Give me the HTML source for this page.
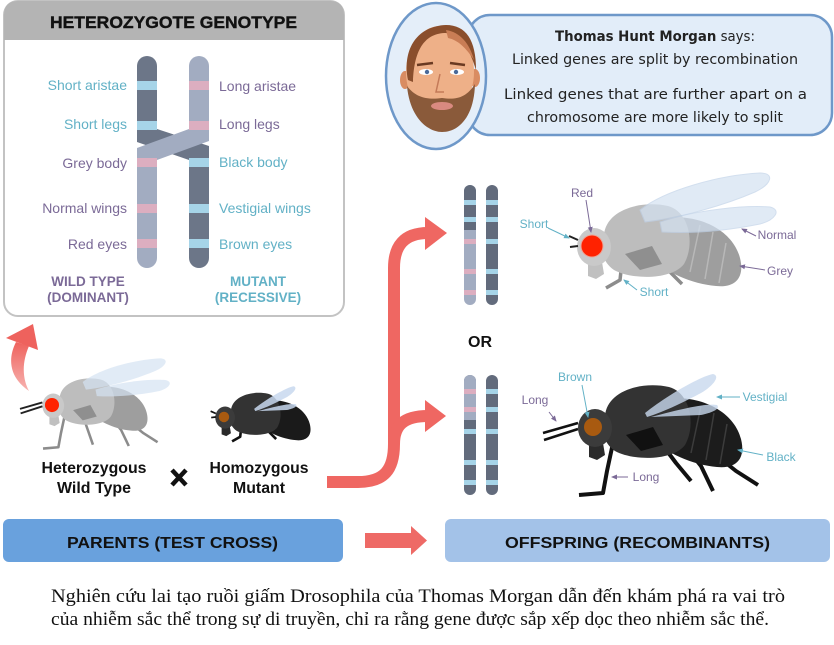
<!DOCTYPE html>
<html><head><meta charset="utf-8"><style>
html,body{margin:0;padding:0;background:#fff;}
svg{display:block;}
</style></head><body>
<svg width="834" height="645" viewBox="0 0 834 645" xmlns="http://www.w3.org/2000/svg" font-family="'Liberation Sans', sans-serif">
<defs>
<marker id="mp" markerWidth="6" markerHeight="6" refX="5" refY="3" orient="auto" markerUnits="userSpaceOnUse"><path d="M0,0.5 L6,3 L0,5.5 Z" fill="#7b6a97"/></marker>
<marker id="mt" markerWidth="6" markerHeight="6" refX="5" refY="3" orient="auto" markerUnits="userSpaceOnUse"><path d="M0,0.5 L6,3 L0,5.5 Z" fill="#62b1c6"/></marker>
<linearGradient id="lg" x1="0" y1="0" x2="0" y2="1"><stop offset="0" stop-color="#ee625d"/><stop offset="1" stop-color="#f7b3b0"/></linearGradient>
</defs>
<rect width="834" height="645" fill="#fff"/>

<!-- Genotype box -->
<rect x="4" y="1" width="340" height="315" rx="14" fill="#fff" stroke="#c3c3c3" stroke-width="2"/>
<path d="M4,40 L4,15 Q4,1 18,1 L330,1 Q344,1 344,15 L344,40 Z" fill="#b4b4b4"/>
<text x="50" y="28" font-size="17" font-weight="bold" fill="#111" stroke="#111" stroke-width="0.4" textLength="247" lengthAdjust="spacingAndGlyphs">HETEROZYGOTE GENOTYPE</text>

<!-- H chromosomes -->
<path d="M137,132 L137,66 A10,10 0 0 1 157,66 L157,132 Z" fill="#6c7688"/>
<path d="M189,156 L189,258 A10,10 0 0 0 209,258 L209,156 Z" fill="#6c7688"/>
<polygon points="137,129 157,129 209,146 209,160 189,160 137,142" fill="#6c7688"/>
<path d="M189,132 L189,66 A10,10 0 0 1 209,66 L209,132 Z" fill="#a2acc1"/>
<polygon points="189,129 209,129 209,141 157,160 137,160 137,148" fill="#a2acc1"/>
<path d="M137,156 L137,258 A10,10 0 0 0 157,258 L157,156 Z" fill="#a2acc1"/>
<g fill="#a6d4e8">
<rect x="137" y="81" width="20" height="9"/><rect x="137" y="121" width="20" height="9"/>
<rect x="189" y="158" width="20" height="9"/><rect x="189" y="204" width="20" height="9"/><rect x="189" y="239" width="20" height="9"/>
</g>
<g fill="#dcaec0">
<rect x="189" y="81" width="20" height="9"/><rect x="189" y="121" width="20" height="9"/>
<rect x="137" y="158" width="20" height="9"/><rect x="137" y="204" width="20" height="9"/><rect x="137" y="239" width="20" height="9"/>
</g>
<g font-size="14" text-anchor="end">
<text x="127" y="90" fill="#62b1c6">Short aristae</text>
<text x="127" y="129" fill="#62b1c6">Short legs</text>
<text x="127" y="168" fill="#7b6a97">Grey body</text>
<text x="127" y="213" fill="#7b6a97">Normal wings</text>
<text x="127" y="249" fill="#7b6a97">Red eyes</text>
</g>
<g font-size="14">
<text x="219" y="91" fill="#7b6a97">Long aristae</text>
<text x="219" y="129" fill="#7b6a97">Long legs</text>
<text x="219" y="167" fill="#62b1c6">Black body</text>
<text x="219" y="213" fill="#62b1c6">Vestigial wings</text>
<text x="219" y="249" fill="#62b1c6">Brown eyes</text>
</g>
<g font-size="13.5" font-weight="bold" text-anchor="middle">
<text x="88" y="286" fill="#7b6a97">WILD TYPE</text>
<text x="88" y="302" fill="#7b6a97">(DOMINANT)</text>
<text x="258" y="286" fill="#62b1c6">MUTANT</text>
<text x="258" y="302" fill="#62b1c6">(RECESSIVE)</text>
</g>

<!-- Morgan bubble -->
<rect x="468" y="15" width="364" height="120" rx="22" fill="#e2edf9" stroke="#6e98c9" stroke-width="2.5"/>
<ellipse cx="436" cy="76" rx="50" ry="73" fill="#e4eef9" stroke="#6e98c9" stroke-width="2.5"/>
<ellipse cx="405" cy="80" rx="5" ry="9" fill="#d98c62"/>
<ellipse cx="475" cy="78" rx="5" ry="9" fill="#d98c62"/>
<ellipse cx="440" cy="72" rx="34" ry="46" fill="#eeb088"/>
<path d="M408,80 C402,48 418,26 446,25 C466,25 476,40 476,70 C470,50 462,36 446,33 C426,33 414,48 413,82 Z" fill="#8a4e2c"/>
<path d="M446,30 C460,32 470,44 474,60 C466,48 458,40 448,38 Z" fill="#c97d55"/>
<path d="M407,86 C410,118 428,132 442,132 C458,132 474,118 475,84 C466,98 456,100 442,98 C428,100 416,98 407,86 Z" fill="#8a5a3a"/>
<ellipse cx="442" cy="106" rx="11" ry="4" fill="#d98a80"/>
<ellipse cx="426" cy="72" rx="7" ry="3" fill="#fff"/><circle cx="427" cy="72" r="2.2" fill="#4a6a9a"/>
<ellipse cx="457" cy="72" rx="7" ry="3" fill="#fff"/><circle cx="456" cy="72" r="2.2" fill="#4a6a9a"/>
<path d="M417,65 L433,63 M450,63 L465,65" stroke="#6a3a22" stroke-width="2.5" fill="none"/>
<path d="M440,74 L436,92 L444,92" stroke="#c47a58" stroke-width="1.5" fill="none"/>
<g font-family="'DejaVu Sans', sans-serif" font-size="14.5" fill="#222">
<text x="555" y="41" textLength="200" lengthAdjust="spacingAndGlyphs"><tspan font-weight="bold">Thomas Hunt Morgan</tspan> says:</text>
<text x="512" y="64" textLength="286" lengthAdjust="spacingAndGlyphs">Linked genes are split by recombination</text>
<text x="504" y="99" textLength="303" lengthAdjust="spacingAndGlyphs">Linked genes that are further apart on a</text>
<text x="527" y="122" textLength="256" lengthAdjust="spacingAndGlyphs">chromosome are more likely to split</text>
</g>

<!-- curved arrow to genotype -->
<path d="M16,342 C7,360 10,378 29,391 C22,378 22,362 29,346 Z" fill="url(#lg)"/>
<polygon points="33,324 6,338 38,350" fill="#ee625d"/>

<!-- Big red arrow -->
<g stroke="#ef6762" stroke-width="12" fill="none">
<path d="M327,482 L358,482 C384,482 394,470 394,444 L394,268 C394,246 404,233 428,233"/>
<path d="M394,444 C394,425 404,416 428,416"/>
</g>
<polygon points="425,217 447,233 425,250" fill="#ef6762"/>
<polygon points="425,400 446,416 425,432" fill="#ef6762"/>

<!-- Offspring chromosomes -->
<rect x="464" y="185" width="12" height="120" rx="6" fill="#a2acc1"/>
<path d="M464,230 L464,191 A6,6 0 0 1 476,191 L476,230 Z" fill="#626b7c"/>
<rect x="486" y="185" width="12" height="120" rx="6" fill="#626b7c"/>
<rect x="464" y="375" width="12" height="120" rx="6" fill="#626b7c"/>
<path d="M464,420 L464,381 A6,6 0 0 1 476,381 L476,420 Z" fill="#a2acc1"/>
<rect x="486" y="375" width="12" height="120" rx="6" fill="#626b7c"/>
<g fill="#a6d4e8">
<rect x="464" y="200" width="12" height="5"/><rect x="464" y="217" width="12" height="5"/>
<rect x="486" y="200" width="12" height="5"/><rect x="486" y="217" width="12" height="5"/><rect x="486" y="239" width="12" height="5"/><rect x="486" y="269" width="12" height="5"/><rect x="486" y="290" width="12" height="5"/>
<rect x="464" y="429" width="12" height="5"/><rect x="464" y="460" width="12" height="5"/><rect x="464" y="480" width="12" height="5"/>
<rect x="486" y="389" width="12" height="5"/><rect x="486" y="407" width="12" height="5"/><rect x="486" y="429" width="12" height="5"/><rect x="486" y="460" width="12" height="5"/><rect x="486" y="480" width="12" height="5"/>
</g>
<g fill="#dcaec0">
<rect x="464" y="239" width="12" height="5"/><rect x="464" y="269" width="12" height="5"/><rect x="464" y="290" width="12" height="5"/>
<rect x="464" y="389" width="12" height="5"/><rect x="464" y="407" width="12" height="5"/>
</g>
<text x="480" y="347" font-size="16" font-weight="bold" text-anchor="middle" fill="#111">OR</text>

<!-- Grey offspring fly -->
<g>
<g stroke="#8c8c8c" stroke-width="3.5" fill="none" stroke-linejoin="round">
<path d="M622,262 L620,280 L606,288"/><path d="M650,255 L668,270 L682,284"/><path d="M685,256 L705,268 L720,282"/>
</g>
<path d="M648,222 C688,208 732,226 740,258 C745,278 735,288 716,286 C692,284 664,272 650,256 C640,244 640,228 648,222 Z" fill="#9e9e9e"/>
<path d="M700,225 L690,272 M713,232 L705,279 M726,243 L719,283" stroke="#b8b8b8" stroke-width="1.5"/>
<path d="M604,235 C606,210 640,200 668,206 C690,212 695,245 684,264 C672,280 632,280 614,270 C602,262 600,248 604,235 Z" fill="#bdbdbd"/>
<path d="M625,254 L652,246 L662,264 L640,270 Z" fill="#8f8f8f"/>
<path d="M588,262 L602,262 L604,274 L596,279 L588,276 Z" fill="#c0c0c0"/>
<ellipse cx="594" cy="247" rx="17" ry="19" fill="#c9c9c9"/>
<circle cx="592" cy="246" r="11" fill="#ff2200" stroke="#f0a090" stroke-width="1"/>
<path d="M578,240 L569,236 M578,246 L570,247" stroke="#222" stroke-width="2"/>
<path d="M640,210 C665,190 720,175 760,173 C775,173 772,184 755,192 C725,205 680,218 645,222 Z" fill="#d4e2f2" opacity="0.7" stroke="#c0d2e8"/>
<path d="M660,222 C695,210 745,205 770,207 C782,210 775,220 760,224 C730,230 695,234 662,232 Z" fill="#d4e2f2" opacity="0.7" stroke="#c0d2e8"/>
</g>

<!-- Black offspring fly -->
<g transform="translate(1,181)">
<g stroke="#111" stroke-width="4" fill="none" stroke-linejoin="round">
<path d="M612,262 L606,290 L602,312 L578,314"/><path d="M672,250 L700,285 L712,310"/><path d="M700,262 L735,290 L757,304"/><path d="M660,262 L675,282 L690,300"/>
</g>
<path d="M648,222 C688,208 732,226 740,258 C745,278 735,288 716,286 C692,284 664,272 650,256 C640,244 640,228 648,222 Z" fill="#1c1c1c"/>
<path d="M700,225 L690,272 M713,232 L705,279 M726,243 L719,283" stroke="#3c3c3c" stroke-width="1.5"/>
<path d="M604,235 C606,210 640,200 668,206 C690,212 695,245 684,264 C672,280 632,280 614,270 C602,262 600,248 604,235 Z" fill="#333"/>
<path d="M625,254 L652,246 L662,264 L640,270 Z" fill="#111"/>
<path d="M588,262 L602,262 L604,274 L596,279 L588,276 Z" fill="#2a2a2a"/>
<ellipse cx="594" cy="247" rx="17" ry="19" fill="#3b3b3b"/>
<circle cx="592" cy="246" r="9" fill="#a85a10"/>
<path d="M577,242 L542,252 M577,248 L543,259" stroke="#111" stroke-width="2.5"/>
<path d="M644,232 C665,215 700,195 712,193 C720,195 712,205 700,212 C685,220 665,230 646,236 Z" fill="#c8d8ee" opacity="0.8"/>
<path d="M650,236 C680,228 705,222 716,224 C720,228 710,232 700,234 Z" fill="#c8d8ee" opacity="0.8"/>
</g>

<!-- Wild type parent fly -->
<g transform="translate(-326.9,247.6) scale(0.64)">
<g stroke="#8c8c8c" stroke-width="4" fill="none" stroke-linejoin="round">
<path d="M612,262 L606,290 L602,312 L578,314"/><path d="M640,262 L648,285 L656,308"/><path d="M672,250 L700,285 L712,310"/><path d="M700,262 L735,290 L757,304"/>
</g>
<path d="M648,222 C688,208 732,226 740,258 C745,278 735,288 716,286 C692,284 664,272 650,256 C640,244 640,228 648,222 Z" fill="#9e9e9e"/>
<path d="M604,235 C606,210 640,200 668,206 C690,212 695,245 684,264 C672,280 632,280 614,270 C602,262 600,248 604,235 Z" fill="#bdbdbd"/>
<path d="M625,254 L652,246 L662,264 L640,270 Z" fill="#8f8f8f"/>
<path d="M588,262 L602,262 L604,274 L596,279 L588,276 Z" fill="#c0c0c0"/>
<ellipse cx="594" cy="247" rx="17" ry="19" fill="#c9c9c9"/>
<circle cx="592" cy="246" r="11" fill="#ff2200"/>
<path d="M577,242 L542,252 M577,248 L543,259" stroke="#222" stroke-width="3"/>
<path d="M640,210 C665,190 720,175 760,173 C775,173 772,184 755,192 C725,205 680,218 645,222 Z" fill="#d4e2f2" opacity="0.7"/>
<path d="M660,222 C695,210 745,205 770,207 C782,210 775,220 760,224 C730,230 695,234 662,232 Z" fill="#d4e2f2" opacity="0.7"/>
</g>

<!-- Mutant parent fly -->
<g transform="translate(-119.4,274.3) scale(0.58)">
<g stroke="#111" stroke-width="4.5" fill="none" stroke-linejoin="round">
<path d="M622,262 L620,280 L606,288"/><path d="M650,255 L668,270 L682,284"/><path d="M685,256 L705,268 L720,282"/>
</g>
<path d="M648,222 C688,208 732,226 740,258 C745,278 735,288 716,286 C692,284 664,272 650,256 C640,244 640,228 648,222 Z" fill="#1a1a1a"/>
<path d="M604,235 C606,210 640,200 668,206 C690,212 695,245 684,264 C672,280 632,280 614,270 C602,262 600,248 604,235 Z" fill="#333"/>
<path d="M588,262 L602,262 L604,274 L596,279 L588,276 Z" fill="#2a2a2a"/>
<ellipse cx="594" cy="247" rx="17" ry="19" fill="#3b3b3b"/>
<circle cx="592" cy="246" r="9" fill="#a85a10"/>
<path d="M578,240 L569,236 M578,246 L570,247" stroke="#111" stroke-width="3"/>
<path d="M644,232 C665,215 700,195 712,193 C720,195 712,205 700,212 C685,220 665,230 646,236 Z" fill="#c8d8ee" opacity="0.85"/>
<path d="M650,236 C680,228 705,222 716,224 C720,228 710,232 700,234 Z" fill="#c8d8ee" opacity="0.85"/>
</g>

<!-- Fly labels -->
<g font-size="12">
<text x="582" y="197" text-anchor="middle" fill="#7b6a97">Red</text>
<text x="534" y="228" text-anchor="middle" fill="#62b1c6">Short</text>
<text x="777" y="239" text-anchor="middle" fill="#7b6a97">Normal</text>
<text x="780" y="275" text-anchor="middle" fill="#7b6a97">Grey</text>
<text x="654" y="296" text-anchor="middle" fill="#62b1c6">Short</text>
<text x="575" y="381" text-anchor="middle" fill="#62b1c6">Brown</text>
<text x="535" y="404" text-anchor="middle" fill="#7b6a97">Long</text>
<text x="765" y="401" text-anchor="middle" fill="#62b1c6">Vestigial</text>
<text x="781" y="461" text-anchor="middle" fill="#62b1c6">Black</text>
<text x="646" y="481" text-anchor="middle" fill="#7b6a97">Long</text>
</g>
<g stroke-width="1" fill="none">
<path d="M586,200 L591,232" stroke="#7b6a97" marker-end="url(#mp)"/>
<path d="M548,228 L569,238" stroke="#62b1c6" marker-end="url(#mt)"/>
<path d="M756,236 L742,229" stroke="#7b6a97" marker-end="url(#mp)"/>
<path d="M765,270 L740,266" stroke="#7b6a97" marker-end="url(#mp)"/>
<path d="M637,290 L624,280" stroke="#62b1c6" marker-end="url(#mt)"/>
<path d="M582,385 L588,417" stroke="#62b1c6" marker-end="url(#mt)"/>
<path d="M549,412 L556,421" stroke="#7b6a97" marker-end="url(#mp)"/>
<path d="M740,397 L717,397" stroke="#62b1c6" marker-end="url(#mt)"/>
<path d="M763,455 L738,450" stroke="#62b1c6" marker-end="url(#mt)"/>
<path d="M628,477 L612,477" stroke="#7b6a97" marker-end="url(#mp)"/>
</g>

<!-- Parent labels -->
<g font-size="15.5" font-weight="bold" text-anchor="middle" fill="#111">
<text x="94" y="473" textLength="105" lengthAdjust="spacingAndGlyphs">Heterozygous</text>
<text x="94" y="493" textLength="74" lengthAdjust="spacingAndGlyphs">Wild Type</text>
<text x="259" y="473" textLength="99" lengthAdjust="spacingAndGlyphs">Homozygous</text>
<text x="259" y="493" textLength="52" lengthAdjust="spacingAndGlyphs">Mutant</text>
</g>
<path d="M172,470 L186,485 M186,470 L172,485" stroke="#111" stroke-width="4.5"/>

<!-- Bottom boxes -->
<rect x="3" y="519" width="340" height="43" rx="6" fill="#69a1dd"/>
<text x="67" y="548" font-size="16" font-weight="bold" fill="#111" textLength="211" lengthAdjust="spacingAndGlyphs">PARENTS (TEST CROSS)</text>
<rect x="365" y="533" width="49" height="15" fill="#ee6a66"/>
<polygon points="411,526 427,540.5 411,555" fill="#ee6a66"/>
<rect x="445" y="519" width="385" height="43" rx="6" fill="#a3c2e8"/>
<text x="505" y="548" font-size="16" font-weight="bold" fill="#111" textLength="265" lengthAdjust="spacingAndGlyphs">OFFSPRING (RECOMBINANTS)</text>

<!-- Caption -->
<g font-family="'Liberation Serif', serif" font-size="18.5" fill="#111">
<text x="51" y="602" textLength="734" lengthAdjust="spacingAndGlyphs">Nghiên cứu lai tạo ruồi giấm Drosophila của Thomas Morgan dẫn đến khám phá ra vai trò</text>
<text x="51" y="625" textLength="718" lengthAdjust="spacingAndGlyphs">của nhiễm sắc thể trong sự di truyền, chỉ ra rằng gene được sắp xếp dọc theo nhiễm sắc thể.</text>
</g>
</svg>
</body></html>
